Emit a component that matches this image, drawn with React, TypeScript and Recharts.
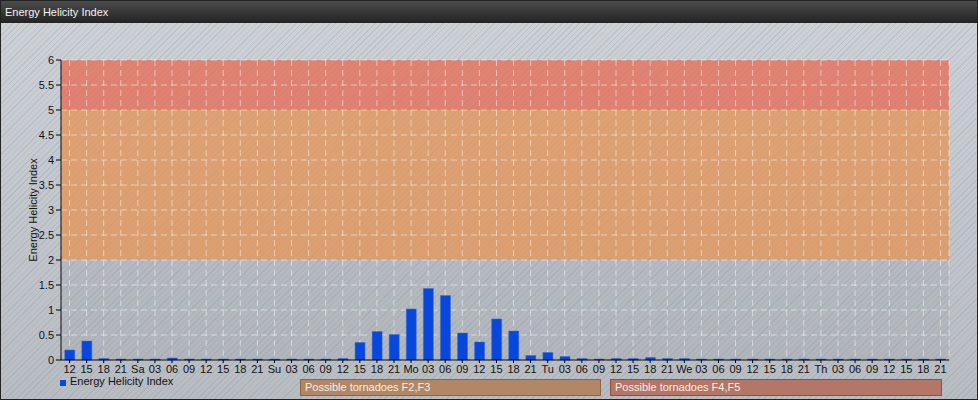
import { Bar, BarChart, CartesianGrid, XAxis, YAxis } from "recharts";

const hours = [
  "12", "15", "18", "21",
  "Sa", "03", "06", "09", "12", "15", "18", "21",
  "Su", "03", "06", "09", "12", "15", "18", "21",
  "Mo", "03", "06", "09", "12", "15", "18", "21",
  "Tu", "03", "06", "09", "12", "15", "18", "21",
  "We", "03", "06", "09", "12", "15", "18", "21",
  "Th", "03", "06", "09", "12", "15", "18", "21",
];

const ehiValues = [
  0.2, 0.38, 0.03, 0.02,
  0.02, 0.02, 0.04, 0.02, 0.02, 0.02, 0.02, 0.02,
  0.02, 0.02, 0.02, 0.02, 0.03, 0.35, 0.57, 0.51,
  1.02, 1.43, 1.29, 0.54, 0.36, 0.82, 0.58, 0.09,
  0.15, 0.07, 0.03, 0.02, 0.03, 0.03, 0.05, 0.03,
  0.03, 0.02, 0.02, 0.02, 0.02, 0.02, 0.02, 0.02,
  0.02, 0.02, 0.02, 0.02, 0.02, 0.02, 0.02, 0.02,
];

const yTicks = [0, 0.5, 1, 1.5, 2, 2.5, 3, 3.5, 4, 4.5, 5, 5.5, 6];

// one fill per half-unit row, top (6) to bottom (0)
const RED = "rgba(231,104,80,0.74)";
const ORANGE = "rgba(228,146,82,0.74)";
const GRAY = "rgba(140,146,156,0.18)";
const bandFills = [RED, RED, ORANGE, ORANGE, ORANGE, ORANGE, ORANGE, ORANGE, GRAY, GRAY, GRAY, GRAY];

const FONT = '"Liberation Sans", Arial, sans-serif';

const data = hours.map((label, i) => ({ idx: i, label, ehi: ehiValues[i] }));

export default function App() {
  return (
    <div
      style={{
        position: "absolute",
        left: 0,
        top: 0,
        width: 978,
        height: 400,
        boxSizing: "border-box",
        border: "1px solid #222",
        fontFamily: FONT,
        background:
          "repeating-linear-gradient(135deg, rgba(120,140,165,0.22) 0px, rgba(120,140,165,0.22) 1px, rgba(0,0,0,0) 1px, rgba(0,0,0,0) 4px), linear-gradient(#cfd3d7, #b9bdc1)",
        overflow: "hidden",
      }}
    >
      <div
        style={{
          position: "absolute",
          left: 0,
          top: 0,
          width: 978,
          height: 22,
          background: "linear-gradient(#4c4c4c, #232323)",
          color: "#f2f2f2",
          fontSize: 11,
          lineHeight: "22px",
          paddingLeft: 4,
          boxSizing: "border-box",
        }}
      >
        Energy Helicity Index
      </div>
      <div style={{ position: "absolute", left: -1, top: -1 }}>
        <BarChart
          width={978}
          height={400}
          data={data}
          margin={{ top: 60, right: 29, bottom: 20, left: 5 }}
          barCategoryGap="22%"
        >
          <CartesianGrid
            stroke="rgba(255,255,255,0.5)"
            strokeDasharray="6 4"
            horizontalFill={bandFills}
            fillOpacity={1}
          />
          <XAxis
            dataKey="idx"
            type="category"
            interval={0}
            tickFormatter={(v) => hours[Number(v)]}
            height={20}
            axisLine={{ stroke: "#000" }}
            tickLine={{ stroke: "#000" }}
            tickSize={3}
            tick={{ fill: "#111", fontSize: 11, fontFamily: FONT }}
          />
          <YAxis
            domain={[0, 6]}
            ticks={yTicks}
            width={56}
            axisLine={{ stroke: "#000" }}
            tickLine={{ stroke: "#000" }}
            tickSize={5}
            tick={{ fill: "#111", fontSize: 11, fontFamily: FONT }}
            label={{
              value: "Energy Helicity Index",
              angle: -90,
              position: "center",
              style: { fill: "#111", fontSize: 11, fontFamily: FONT },
            }}
          />
          <Bar dataKey="ehi" fill="#0747db" stroke="#3a6ae0" strokeWidth={0.5} isAnimationActive={false} />
        </BarChart>
      </div>
      <div
        style={{
          position: "absolute",
          left: 59,
          top: 374,
          fontSize: 11,
          color: "#111",
          display: "flex",
          alignItems: "center",
        }}
      >
        <span style={{ display: "inline-block", width: 6, height: 6, background: "#0747db", marginRight: 4, marginTop: 4 }} />
        Energy Helicity Index
      </div>
      <div
        style={{
          position: "absolute",
          left: 299,
          top: 378,
          width: 301,
          height: 17,
          boxSizing: "border-box",
          background: "rgba(176,132,96,0.95)",
          border: "1px solid #8e6446",
          color: "#f6efe6",
          fontSize: 11,
          lineHeight: "15px",
          paddingLeft: 4,
        }}
      >
        Possible tornadoes F2,F3
      </div>
      <div
        style={{
          position: "absolute",
          left: 609,
          top: 378,
          width: 332,
          height: 17,
          boxSizing: "border-box",
          background: "rgba(178,114,98,0.95)",
          border: "1px solid #8e5040",
          color: "#f6efe6",
          fontSize: 11,
          lineHeight: "15px",
          paddingLeft: 4,
        }}
      >
        Possible tornadoes F4,F5
      </div>
    </div>
  );
}
